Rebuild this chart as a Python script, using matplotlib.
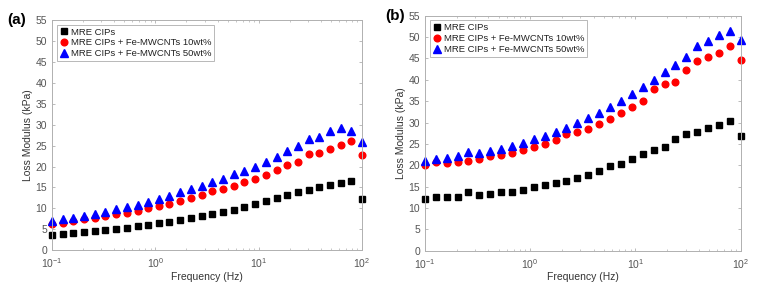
import matplotlib.pyplot as plt

plt.rcParams['font.family'] = ['Liberation Sans', 'DejaVu Sans']

# frequency points (Hz)
freq = [0.100, 0.127, 0.161, 0.204, 0.259, 0.329, 0.418, 0.530, 0.672, 0.853,
        1.08, 1.37, 1.74, 2.21, 2.81, 3.56, 4.52, 5.74, 7.28, 9.24,
        11.7, 14.9, 18.9, 24.0, 30.4, 38.6, 49.0, 62.1, 78.8, 100.0]

labels = ["MRE CIPs", "MRE CIPs + Fe-MWCNTs 10wt%", "MRE CIPs + Fe-MWCNTs 50wt%"]

# (a) loss modulus (kPa)
a_cip = [3.65, 3.8, 4.1, 4.4, 4.7, 4.8, 5.2, 5.4, 5.7, 6.1,
         6.45, 6.8, 7.2, 7.8, 8.2, 8.7, 9.2, 9.7, 10.3, 11.0,
         11.7, 12.5, 13.3, 13.9, 14.5, 15.2, 15.7, 16.1, 16.5, 12.3]
a_10 = [6.3, 6.5, 7.1, 7.4, 7.6, 8.2, 8.6, 9.0, 9.4, 10.0,
        10.5, 11.0, 11.8, 12.5, 13.3, 14.1, 14.6, 15.3, 16.3, 17.1,
        18.0, 19.1, 20.3, 21.1, 22.9, 23.3, 24.2, 25.1, 26.1, 22.7]
a_50 = [7.1, 7.5, 7.8, 8.1, 8.7, 9.2, 9.8, 10.3, 10.7, 11.5,
        12.15, 13.0, 13.9, 14.6, 15.3, 16.2, 17.1, 18.2, 19.0, 19.9,
        21.1, 22.2, 23.6, 25.0, 26.6, 27.1, 28.4, 29.1, 28.6, 25.9]

# (b) loss modulus (kPa)
b_cip = [12.1, 12.5, 12.5, 12.6, 13.7, 13.0, 13.3, 13.7, 13.8, 14.2,
         15.0, 15.3, 15.8, 16.4, 17.0, 17.8, 18.6, 19.8, 20.4, 21.5,
         22.7, 23.5, 24.3, 26.2, 27.3, 27.8, 28.7, 29.4, 30.3, 26.8]
b_10 = [20.1, 20.7, 20.5, 20.7, 21.1, 21.5, 22.1, 22.5, 22.9, 23.5,
        24.2, 25.1, 25.9, 27.4, 27.9, 28.6, 29.7, 30.8, 32.2, 33.6,
        35.1, 37.9, 39.1, 39.6, 42.2, 44.4, 45.3, 46.2, 47.9, 44.7]
b_50 = [21.1, 21.4, 21.6, 22.2, 23.0, 22.9, 23.4, 23.9, 24.5, 25.2,
        26.1, 26.8, 27.8, 28.7, 29.8, 31.0, 32.2, 33.6, 35.0, 36.7,
        38.3, 40.0, 41.9, 43.5, 45.3, 47.9, 49.2, 50.5, 51.5, 49.3]

fig = plt.figure(figsize=(7.74, 2.84), dpi=100)
ax_a = fig.add_axes([0.0672, 0.1187, 0.4005, 0.811])
ax_b = fig.add_axes([0.549, 0.117, 0.408, 0.8275])

frame = '#b0b0b0'
tickc = '#555555'

for ax, ys in [(ax_a, (a_cip, a_10, a_50)), (ax_b, (b_cip, b_10, b_50))]:
    ax.plot(freq, ys[0], 's', color='black', markersize=3.8, label=labels[0], clip_on=False)
    ax.plot(freq, ys[1], 'o', color='red', markersize=4.8, label=labels[1], clip_on=False)
    ax.plot(freq, ys[2], '^', color='blue', markersize=5.2, label=labels[2], clip_on=False)
    ax.set_xscale('log')
    ax.set_xlim(0.1, 100)
    ax.set_ylim(0, 55)
    ax.set_yticks(range(0, 56, 5))
    ax.set_xlabel("Frequency (Hz)", fontsize=7.5, color='#333333', labelpad=1)
    ax.set_ylabel("Loss Modulus (kPa)", fontsize=7.5, color='#333333', labelpad=2)
    ax.tick_params(which='both', direction='in', top=True, right=True,
                   colors=frame, labelcolor=tickc, labelsize=7.5)
    ax.tick_params(which='major', length=2.5, width=0.6)
    ax.tick_params(which='minor', length=1.5, width=0.5)
    ax.tick_params(axis='x', pad=4.5)
    for s in ax.spines.values():
        s.set_color(frame)
        s.set_linewidth(0.7)
    leg = ax.legend(loc='upper left', fontsize=6.8, frameon=True, fancybox=False,
                    borderpad=0.3, labelspacing=0.2, handletextpad=0.2,
                    handlelength=1.0, borderaxespad=0.5)
    leg.get_frame().set_edgecolor('#999999')
    leg.get_frame().set_linewidth(0.6)
    for t in leg.get_texts():
        t.set_color('#222222')

fig.text(0.022, 0.93, "(a)", fontsize=11, fontweight='bold', ha='center', va='center')
fig.text(0.51, 0.945, "(b)", fontsize=11, fontweight='bold', ha='center', va='center')

fig.savefig("out.png", dpi=100)
